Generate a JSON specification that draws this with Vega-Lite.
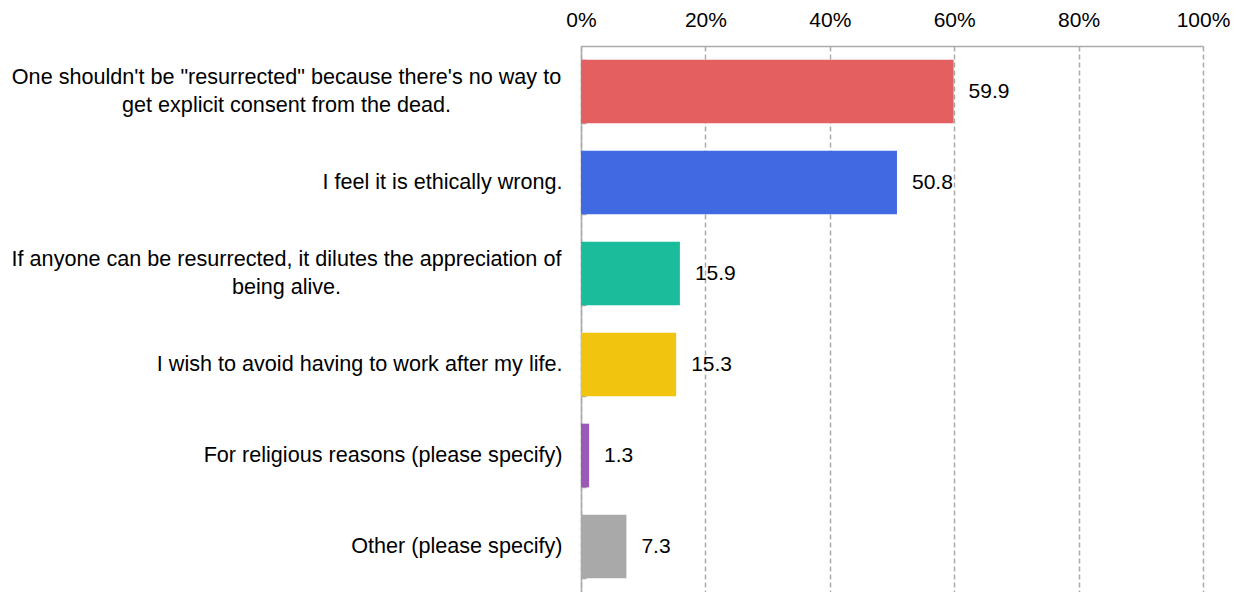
{
  "$schema": "https://vega.github.io/schema/vega-lite/v6.json",
  "autosize": {"type": "none"},
  "padding": {"left": 581, "top": 46, "right": 37, "bottom": 0},
  "width": 622,
  "height": 546,
  "background": "white",
  "config": {
    "view": {"stroke": null},
    "font": "Liberation Sans"
  },
  "data": {
    "values": [
      {"reason": "One shouldn't be \"resurrected\" because there's no way to get explicit consent from the dead.", "pct": 59.9},
      {"reason": "I feel it is ethically wrong.", "pct": 50.8},
      {"reason": "If anyone can be resurrected, it dilutes the appreciation of being alive.", "pct": 15.9},
      {"reason": "I wish to avoid having to work after my life.", "pct": 15.3},
      {"reason": "For religious reasons (please specify)", "pct": 1.3},
      {"reason": "Other (please specify)", "pct": 7.3}
    ]
  },
  "encoding": {
    "y": {
      "field": "reason",
      "type": "nominal",
      "sort": null,
      "scale": {"paddingInner": 0.3, "paddingOuter": 0.15},
      "axis": {
        "title": null,
        "labelExpr": "isValid(datum.value) ? split(replace(replace(datum.value, ' get explicit', '|get explicit'), ' being alive', '|being alive'), '|') : ''",
        "labelFont": "Liberation Sans",
        "labelFontSize": 21.6,
        "labelColor": "#000000",
        "labelLineHeight": 28,
        "labelLimit": 0,
        "labelBaseline": "middle",
        "labelAlign": {"condition": {"test": "isValid(datum.value) && (indexof(datum.value, 'explicit') >= 0 || indexof(datum.value, 'being alive') >= 0)", "value": "center"}, "value": "right"},
        "labelPadding": {"condition": {"test": "isValid(datum.value) && (indexof(datum.value, 'explicit') >= 0 || indexof(datum.value, 'being alive') >= 0)", "value": 300}, "value": 24},
        "labelOffset": {"condition": {"test": "isValid(datum.value) && (indexof(datum.value, 'explicit') >= 0 || indexof(datum.value, 'being alive') >= 0)", "value": -14}, "value": 0},
        "domainColor": "#aaaaaa",
        "domainWidth": 1.5,
        "ticks": true,
        "tickBand": "extent",
        "tickSize": -5,
        "tickColor": "#aaaaaa",
        "tickWidth": 1.5
      }
    },
    "x": {
      "field": "pct",
      "type": "quantitative",
      "scale": {"domain": [0, 100], "nice": false},
      "axis": {
        "orient": "top",
        "title": null,
        "values": [0, 20, 40, 60, 80, 100],
        "labelExpr": "datum.value + '%'",
        "labelFont": "Liberation Sans",
        "labelFontSize": 21,
        "labelColor": "#000000",
        "labelPadding": 16,
        "labelFlush": false,
        "labelOverlap": false,
        "ticks": false,
        "grid": true,
        "gridColor": "#aaaaaa",
        "gridDash": [5, 3],
        "gridWidth": 1.5,
        "domainColor": "#aaaaaa",
        "domainWidth": 1.5
      }
    }
  },
  "layer": [
    {
      "mark": {"type": "bar"},
      "encoding": {
        "color": {
          "field": "reason",
          "type": "nominal",
          "sort": null,
          "legend": null,
          "scale": {
            "domain": [
              "One shouldn't be \"resurrected\" because there's no way to get explicit consent from the dead.",
              "I feel it is ethically wrong.",
              "If anyone can be resurrected, it dilutes the appreciation of being alive.",
              "I wish to avoid having to work after my life.",
              "For religious reasons (please specify)",
              "Other (please specify)"
            ],
            "range": ["#e45f5f", "#4169e1", "#1abc9c", "#f1c40f", "#9b59b6", "#a9a9a9"]
          }
        }
      }
    },
    {
      "mark": {"type": "text", "align": "left", "baseline": "middle", "dx": 15, "fontSize": 21, "font": "Liberation Sans", "color": "#000000"},
      "encoding": {
        "text": {"field": "pct", "type": "quantitative", "format": ".1f"}
      }
    }
  ]
}
